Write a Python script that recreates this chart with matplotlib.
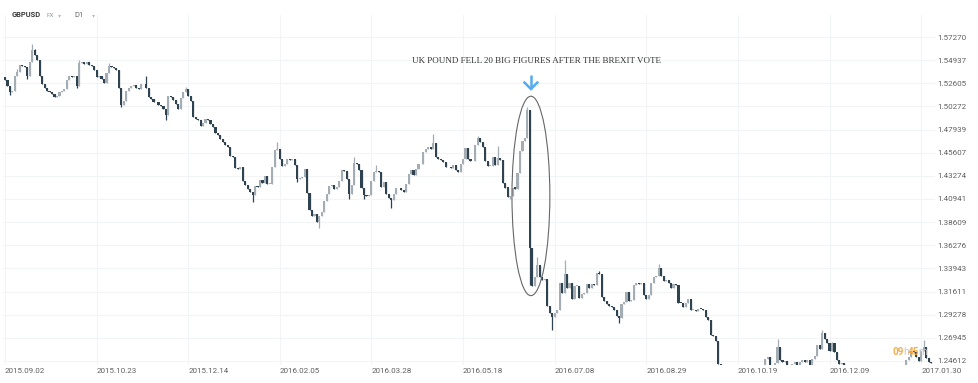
import numpy as np
import matplotlib
matplotlib.use("Agg")
import matplotlib.pyplot as plt
from matplotlib.patches import Ellipse

# GBPUSD daily closes, one per bar
closes = [
    1.5290, 1.5235, 1.5170, 1.5185, 1.5330, 1.5375, 1.5445, 1.5430, 1.5420, 1.5335,
    1.5480, 1.5600, 1.5545, 1.5500, 1.5330, 1.5255, 1.5210, 1.5185, 1.5175, 1.5150,
    1.5125, 1.5130, 1.5170, 1.5180, 1.5200, 1.5290, 1.5330, 1.5320, 1.5330, 1.5235,
    1.5460, 1.5480, 1.5455, 1.5480, 1.5440, 1.5430, 1.5390, 1.5320, 1.5335, 1.5300,
    1.5265, 1.5360, 1.5430, 1.5425, 1.5410, 1.5395, 1.5210, 1.5040, 1.5085, 1.5180,
    1.5215, 1.5230, 1.5245, 1.5210, 1.5200, 1.5255, 1.5250, 1.5210, 1.5120, 1.5100,
    1.5070, 1.5075, 1.5045, 1.5030, 1.5005, 1.4945, 1.5130, 1.5120, 1.5090, 1.5055,
    1.5000, 1.5110, 1.5175, 1.5205, 1.5130, 1.5080, 1.4920, 1.4900, 1.4895, 1.4830,
    1.4865, 1.4900, 1.4890, 1.4855, 1.4815, 1.4760, 1.4740, 1.4700, 1.4665, 1.4640,
    1.4615, 1.4525, 1.4520, 1.4410, 1.4400, 1.4420, 1.4275, 1.4240, 1.4190, 1.4160,
    1.4130, 1.4230, 1.4220, 1.4285, 1.4260, 1.4330, 1.4245, 1.4245, 1.4420, 1.4590,
    1.4600, 1.4500, 1.4430, 1.4445, 1.4500, 1.4485, 1.4500, 1.4440, 1.4300, 1.4305,
    1.4320, 1.4400, 1.4150, 1.3985, 1.3925, 1.3945, 1.3865, 1.3925, 1.3960, 1.4070,
    1.4140, 1.4230, 1.4235, 1.4190, 1.4215, 1.4280, 1.4390, 1.4375, 1.4300, 1.4140,
    1.4240, 1.4460, 1.4450, 1.4390, 1.4205, 1.4135, 1.4120, 1.4130, 1.4275, 1.4370,
    1.4375, 1.4370, 1.4215, 1.4265, 1.4140, 1.4105, 1.4080, 1.4140, 1.4200, 1.4200,
    1.4180, 1.4160, 1.4250, 1.4345, 1.4385, 1.4340, 1.4400, 1.4450, 1.4445, 1.4570,
    1.4595, 1.4615, 1.4600, 1.4655, 1.4520, 1.4495, 1.4485, 1.4465, 1.4420, 1.4415,
    1.4405, 1.4440, 1.4390, 1.4370, 1.4450, 1.4500, 1.4610, 1.4500, 1.4475, 1.4480,
    1.4635, 1.4710, 1.4670, 1.4620, 1.4475, 1.4430, 1.4430, 1.4520, 1.4435, 1.4510,
    1.4490, 1.4255, 1.4210, 1.4115, 1.4120, 1.4210, 1.4195, 1.4360, 1.4580, 1.4680,
    1.4710, 1.4990, 1.3600, 1.3220, 1.3305, 1.3430, 1.3310, 1.3275, 1.3290, 1.3015,
    1.2945, 1.2905, 1.2950, 1.2980, 1.3245, 1.3145, 1.3335, 1.3195, 1.3250, 1.3085,
    1.3220, 1.3220, 1.3100, 1.3135, 1.3150, 1.3235, 1.3200, 1.3235, 1.3225, 1.3345,
    1.3340, 1.3110, 1.3065, 1.3040, 1.3015, 1.3010, 1.2975, 1.2910, 1.2895, 1.3040,
    1.3055, 1.3160, 1.3070, 1.3080, 1.3225, 1.3245, 1.3235, 1.3245, 1.3130, 1.3085,
    1.3130, 1.3245, 1.3305, 1.3315, 1.3400, 1.3315, 1.3265, 1.3275, 1.3245, 1.3200,
    1.3240, 1.3230, 1.3050, 1.3045, 1.3010, 1.3045, 1.3085, 1.2980, 1.2980, 1.2965,
    1.2990, 1.2985, 1.2975, 1.2900, 1.2875, 1.2725, 1.2715, 1.2660, 1.2435, 1.2375,
    1.2170, 1.2260, 1.2180, 1.2185, 1.2245, 1.2295, 1.2250, 1.2230, 1.2235, 1.2235,
    1.2165, 1.2240, 1.2170, 1.2190, 1.2235, 1.2195, 1.2305, 1.2480, 1.2505, 1.2395,
    1.2375, 1.2440, 1.2600, 1.2475, 1.2450, 1.2465, 1.2395, 1.2340, 1.2430, 1.2450,
    1.2360, 1.2450, 1.2470, 1.2450, 1.2470, 1.2410, 1.2480, 1.2510, 1.2620, 1.2585,
    1.2740, 1.2680, 1.2640, 1.2565, 1.2640, 1.2550, 1.2470, 1.2435, 1.2440, 1.2420,
    1.2380, 1.2335, 1.2355, 1.2275, 1.2280, 1.2265, 1.2240, 1.2285, 1.2340, 1.2290,
    1.2290, 1.2380, 1.2270, 1.2160, 1.2175, 1.2195, 1.2165, 1.2180, 1.2055, 1.2395,
    1.2340, 1.2330, 1.2370, 1.2415, 1.2470, 1.2505, 1.2560, 1.2555, 1.2500, 1.2460,
    1.2560, 1.2600, 1.2490, 1.2455, 1.2440,
]
first_open = 1.5320

# visible wick extremes (bar index -> price)
wick_highs = {5: 1.5400, 11: 1.5655, 12: 1.5605, 30: 1.5495, 42: 1.5470, 57: 1.5330,
              73: 1.5225, 110: 1.4665, 141: 1.4515, 150: 1.4440, 173: 1.4750,
              191: 1.4730, 199: 1.4630, 211: 1.5020, 213: 1.3500, 215: 1.3510,
              226: 1.3480, 240: 1.3370, 264: 1.3435, 312: 1.2680, 330: 1.2775,
              334: 1.2655, 371: 1.2675}
wick_lows = {2: 1.5140, 9: 1.5300, 29: 1.5210, 47: 1.5020, 65: 1.4895, 100: 1.4065,
             118: 1.4270, 127: 1.3805, 139: 1.4090, 145: 1.4090, 156: 1.4000,
             204: 1.4090, 212: 1.3230, 221: 1.2770, 248: 1.2845}

date_ticks = [0, 37, 74, 111, 148, 185, 222, 259, 296, 333, 370]
date_labels = ["2015.09.02", "2015.10.23", "2015.12.14", "2016.02.05", "2016.03.28",
               "2016.05.18", "2016.07.08", "2016.08.29", "2016.10.19", "2016.12.09",
               "2017.01.30"]
price_ticks = [1.24612, 1.26945, 1.29278, 1.31611, 1.33943, 1.36276, 1.38609, 1.40941,
               1.43274, 1.45607, 1.47939, 1.50272, 1.52605, 1.54937, 1.57270]
brexit_bar = 212
note = "UK POUND FELL 20 BIG FIGURES AFTER THE BREXIT VOTE"

UP = "#a3adb3"
DOWN = "#2f4250"

closes = np.array(closes)
opens = np.concatenate([[first_open], closes[:-1]])
x = np.arange(len(closes))
highs = np.maximum(opens, closes)
lows = np.minimum(opens, closes)
for k, v in wick_highs.items():
    highs[k] = max(highs[k], v)
for k, v in wick_lows.items():
    lows[k] = min(lows[k], v)
colors = np.where(closes >= opens, UP, DOWN)

W, H = 979, 383
fig = plt.figure(figsize=(W / 100, H / 100), dpi=100)
ax = fig.add_axes([3 / W, 18 / H, 932 / W, 350 / H])

ax.vlines(x, lows, highs, colors=colors, linewidth=0.9, zorder=2)
body_h = np.maximum(np.abs(closes - opens), 0.0006)
ax.bar(x, body_h, bottom=np.minimum(opens, closes), width=0.85, color=colors,
       linewidth=0, zorder=3)

ax.set_xlim(-0.8, 375.6)
ax.set_ylim(1.24208, 1.59488)

ax.set_xticks(date_ticks)
ax.set_xticklabels(date_labels, ha="left")
ax.set_yticks(price_ticks)
ax.set_yticklabels(["%.5f" % p for p in price_ticks])
ax.yaxis.tick_right()
ax.tick_params(axis="both", length=0, labelsize=5.8, labelcolor="#5f5f5f",
               labelfontfamily="Roboto")
ax.tick_params(axis="x", pad=2)
ax.tick_params(axis="y", pad=1.5)
ax.grid(True, color="#f2f4f5", linewidth=0.8, zorder=0)
for s in ax.spines.values():
    s.set_visible(False)

# annotation: note, arrow and ellipse around the referendum bars
hi = highs[brexit_bar - 1]
lo = lows[brexit_bar]
ax.add_patch(Ellipse((brexit_bar + 0.4, (hi + lo) / 2), 15.3, (hi - lo) + 0.022,
                     fill=False, edgecolor="#666666", linewidth=0.8, zorder=4))
ax.text(brexit_bar + 2.6, 1.5485, note, ha="center", va="center", fontsize=6.45,
        family="Liberation Serif", color="#333333")
ac = "#56aaee"
ax.plot([brexit_bar + 0.4, brexit_bar + 0.4], [1.5345, 1.5205], color=ac, lw=1.8,
        solid_capstyle="butt", zorder=5)
ax.plot([brexit_bar - 2.2, brexit_bar + 0.4, brexit_bar + 3.0], [1.5268, 1.5203, 1.5268],
        color=ac, lw=1.8, solid_joinstyle="miter", zorder=5)

# header
fig.text(12 / W, 1 - 15 / H, "GBPUSD", fontsize=5.4, fontweight="bold", color="#3a3a3a",
         family="Roboto", va="center")
fig.text(47 / W, 1 - 15.5 / H, "FX", fontsize=4.6, color="#8c9aa4", family="Roboto",
         va="center")
fig.text(58 / W, 1 - 15.5 / H, "\u25be", fontsize=4.5, color="#b8c0c6", va="center")
fig.text(74 / W, 1 - 15.5 / H, "D1", fontsize=5.4, color="#6a6a6a", family="Roboto",
         va="center")
fig.text(92 / W, 1 - 16 / H, "\u25be", fontsize=4.5, color="#b8c0c6", va="center")

# countdown to next bar
orange = "#f5a53a"
fig.text(893 / W, 1 - 352 / H, "09", fontsize=7.2, fontweight="bold", color=orange,
         family="Roboto", va="center", alpha=0.9)
fig.text(903.5 / W, 1 - 352 / H, "h", fontsize=7.2, color="#c4c4c4", family="Roboto",
         va="center", alpha=0.9)
fig.text(908 / W, 1 - 352 / H, "45", fontsize=7.2, fontweight="bold", color=orange,
         family="Roboto", va="center", alpha=0.9)
fig.text(918.5 / W, 1 - 352 / H, "m", fontsize=7.2, color="#c4c4c4", family="Roboto",
         va="center", alpha=0.9)

fig.savefig("out.png", dpi=100, facecolor="white")
